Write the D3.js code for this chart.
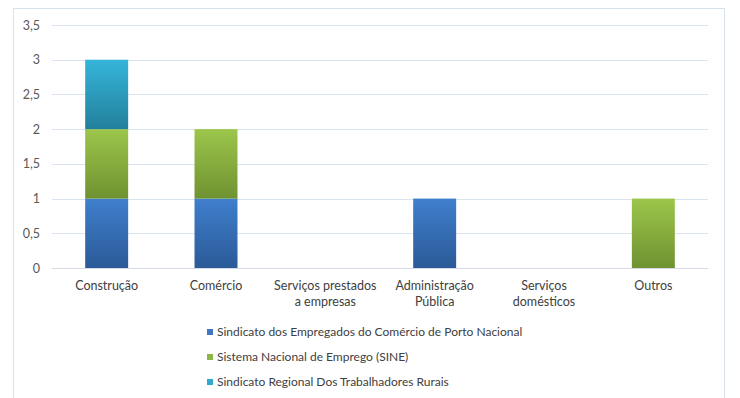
<!DOCTYPE html>
<html><head><meta charset="utf-8">
<script src="https://cdn.jsdelivr.net/npm/d3@7"></script>
<style>body{margin:0;background:#fff;} svg{font-family:"Lato","Open Sans",sans-serif;}</style>
</head><body>
<svg id="c" width="740" height="398"></svg>
<script>
const categories = ["Construção","Comércio","Serviços prestados\na empresas","Administração\nPública","Serviços\ndomésticos","Outros"];
const seriesNames = ["Sindicato dos Empregados do Comércio de Porto Nacional","Sistema Nacional de Emprego (SINE)","Sindicato Regional Dos Trabalhadores Rurais"];
const sindicatoComercio = [1,1,0,1,0,0];
const sine = [1,1,0,0,0,1];
const sindicatoRural = [1,0,0,0,0,0];
const yTicks = [0,0.5,1,1.5,2,2.5,3,3.5];
const tickLabels = ["0","0,5","1","1,5","2","2,5","3","3,5"];

const colors = [
  {top:"#3f7fcd", bottom:"#2b5a97", key:"#4276c0"},
  {top:"#9cc64b", bottom:"#6f9231", key:"#8cb84a"},
  {top:"#35b5da", bottom:"#22809c", key:"#2fa9cc"}
];

const svg = d3.select("#c");
svg.append("rect").attr("x",13.5).attr("y",8.5).attr("width",711).attr("height",400)
  .attr("fill","#fff").attr("stroke","#d9e1ee");

const defs = svg.append("defs");
colors.forEach((c,i)=>{
  const g = defs.append("linearGradient").attr("id","g"+i).attr("x1",0).attr("y1",0).attr("x2",0).attr("y2",1);
  g.append("stop").attr("offset","0%").attr("stop-color",c.top);
  g.append("stop").attr("offset","100%").attr("stop-color",c.bottom);
});

const pLeft = 52, pRight = 708, pTop = 25, pBottom = 268;
const x = d3.scaleBand().domain(categories).range([pLeft,pRight]).paddingInner(0.607).paddingOuter(0.3035);
const y = d3.scaleLinear().domain([0,3.5]).range([pBottom,pTop]);

// gridlines
svg.append("g").selectAll("line").data(yTicks).join("line")
  .attr("x1",pLeft).attr("x2",pRight)
  .attr("y1",d=>Math.round(y(d))+0.5).attr("y2",d=>Math.round(y(d))+0.5)
  .attr("stroke",d=>d===0?"#d5dbe5":"#dbe3ef").attr("stroke-width",1);

// y tick labels
const yAxis = d3.axisLeft(y).tickValues(yTicks).tickFormat((d,i)=>tickLabels[i]).tickSize(0).tickPadding(0);
const ya = svg.append("g").attr("transform",`translate(${pLeft-12},0)`).call(yAxis);
ya.select(".domain").remove();
ya.selectAll("text").attr("font-size",12.5).attr("fill","#595959").attr("font-family","Lato,sans-serif");

// stacked bars
const table = categories.map((c,i)=>({cat:c, s0:sindicatoComercio[i], s1:sine[i], s2:sindicatoRural[i]}));
const stack = d3.stack().keys(["s0","s1","s2"])(table);
stack.forEach((layer,li)=>{
  svg.append("g").selectAll("rect").data(layer.filter(d=>d[1]-d[0]>0)).join("rect")
    .attr("x",d=>x(d.data.cat)).attr("width",x.bandwidth())
    .attr("y",d=>y(d[1])).attr("height",d=>y(d[0])-y(d[1]))
    .attr("fill",`url(#g${li})`);
});

// x labels
const xl = svg.append("g");
categories.forEach(c=>{
  const t = xl.append("text").attr("x",x(c)+x.bandwidth()/2).attr("y",290)
    .attr("text-anchor","middle").attr("font-size",12.5).attr("fill","#404040");
  c.split("\n").forEach((line,i)=>{
    t.append("tspan").attr("x",x(c)+x.bandwidth()/2).attr("dy",i===0?0:16).text(line);
  });
});

// legend
const lg = svg.append("g");
seriesNames.forEach((n,i)=>{
  const yy = 332 + i*25;
  lg.append("rect").attr("x",207).attr("y",yy-3).attr("width",6).attr("height",6).attr("fill",colors[i].key);
  lg.append("text").attr("x",217).attr("y",yy+4).attr("font-size",12).attr("fill","#404040").text(n);
});
</script>
</body></html>
